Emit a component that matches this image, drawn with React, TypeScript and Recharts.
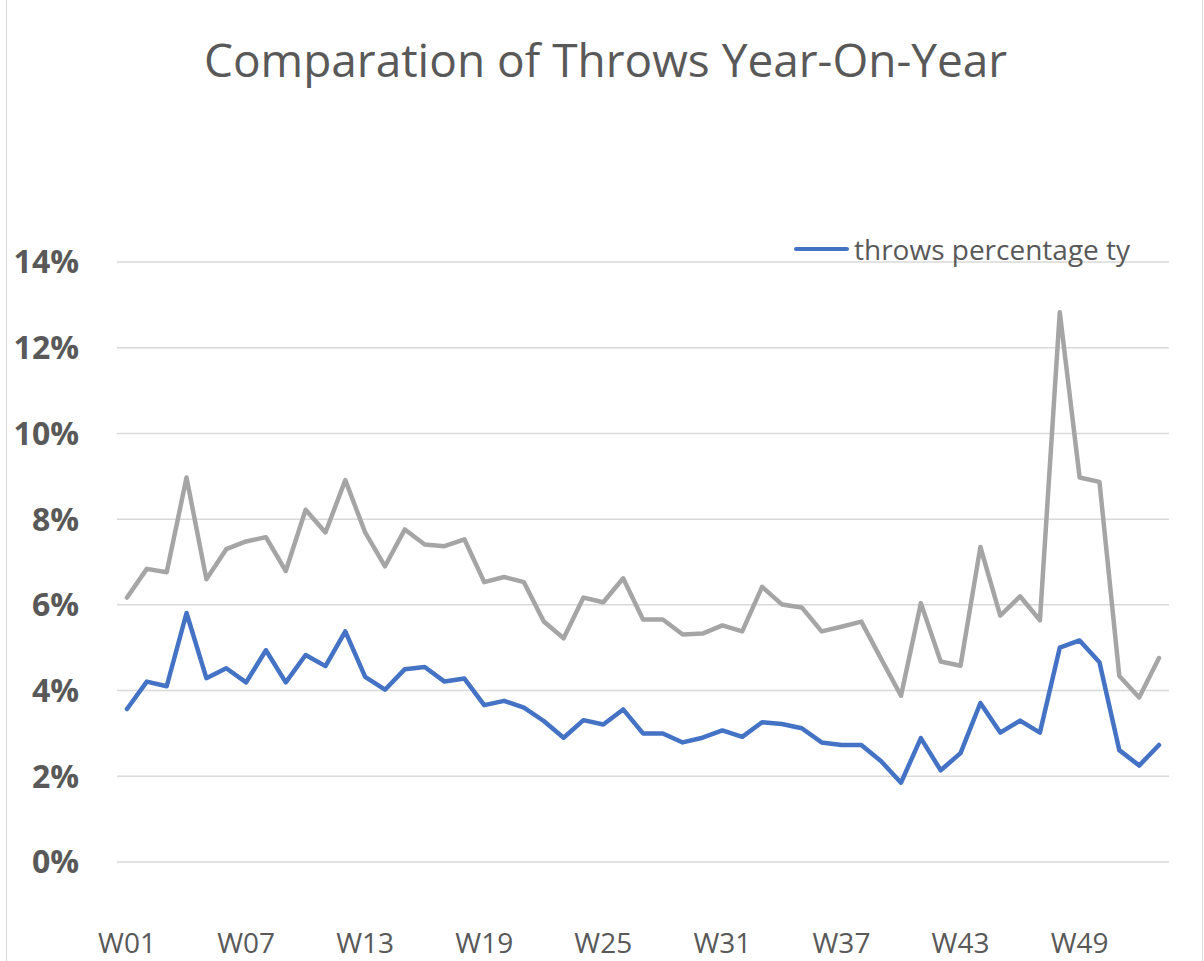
import React from 'react';
import { LineChart, Line, XAxis, YAxis, CartesianGrid, Legend } from 'recharts';

const weeks = [
  'W01', 'W02', 'W03', 'W04', 'W05', 'W06', 'W07', 'W08', 'W09', 'W10',
  'W11', 'W12', 'W13', 'W14', 'W15', 'W16', 'W17', 'W18', 'W19', 'W20',
  'W21', 'W22', 'W23', 'W24', 'W25', 'W26', 'W27', 'W28', 'W29', 'W30',
  'W31', 'W32', 'W33', 'W34', 'W35', 'W36', 'W37', 'W38', 'W39', 'W40',
  'W41', 'W42', 'W43', 'W44', 'W45', 'W46', 'W47', 'W48', 'W49', 'W50',
  'W51', 'W52', 'W53',
];

const throwsLy = [
  6.17, 6.84, 6.76, 8.97, 6.6, 7.3, 7.48, 7.58, 6.79, 8.22,
  7.69, 8.91, 7.69, 6.9, 7.76, 7.41, 7.37, 7.53, 6.53, 6.65,
  6.53, 5.61, 5.22, 6.17, 6.06, 6.62, 5.66, 5.66, 5.31, 5.33,
  5.52, 5.38, 6.42, 6.01, 5.94, 5.38, 5.49, 5.61, 4.74, 3.88,
  6.04, 4.68, 4.58, 7.35, 5.75, 6.2, 5.64, 12.83, 8.97, 8.87,
  4.34, 3.84, 4.76,
];

const throwsTy = [
  3.57, 4.21, 4.1, 5.81, 4.29, 4.52, 4.19, 4.94, 4.19, 4.83,
  4.57, 5.38, 4.32, 4.02, 4.5, 4.55, 4.21, 4.28, 3.66, 3.76,
  3.6, 3.29, 2.9, 3.31, 3.21, 3.56, 3.0, 3.0, 2.79, 2.9,
  3.07, 2.92, 3.26, 3.22, 3.12, 2.79, 2.73, 2.73, 2.35, 1.85,
  2.89, 2.14, 2.54, 3.71, 3.02, 3.3, 3.02, 5.0, 5.17, 4.66,
  2.61, 2.25, 2.73,
];

const yTicks = [0, 2, 4, 6, 8, 10, 12, 14];
const chartTitle = 'Comparation of Throws Year-On-Year';
const tyName = 'throws percentage ty';
const lyName = 'throws percentage ly';

const data = weeks.map((w, i) => ({ week: w, ly: throwsLy[i], ty: throwsTy[i] }));

const FONT = '"Open Sans", "Liberation Sans", sans-serif';
const TEXT = '#595959';
const BLUE = '#4472c4';
const GRAY = '#a5a5a5';

function LegendContent(props: any) {
  const items = (props.payload || []).filter((p: any) => p.type !== 'none');
  return (
    <div style={{ display: 'flex', alignItems: 'center' }}>
      {items.map((p: any) => (
        <div key={p.value} style={{ display: 'flex', alignItems: 'center' }}>
          <span
            style={{
              display: 'inline-block',
              width: 55,
              height: 4.5,
              borderRadius: 3,
              background: p.color,
              marginRight: 5,
            }}
          />
          <span style={{ fontFamily: FONT, fontSize: 28, color: TEXT, lineHeight: '38px' }}>{p.value}</span>
        </div>
      ))}
    </div>
  );
}

export default function App() {
  return (
    <div
      style={{
        position: 'absolute',
        left: 0,
        top: 0,
        width: 1204,
        height: 961,
        background: '#fff',
        overflow: 'hidden',
      }}
    >
      <div
        style={{
          position: 'absolute',
          left: 6,
          top: -12,
          width: 1197,
          height: 990,
          border: '1.5px solid #d9d9d9',
          borderRadius: 8,
          boxSizing: 'border-box',
        }}
      />
      <div
        style={{
          position: 'absolute',
          left: 0,
          top: 28,
          width: 1211,
          textAlign: 'center',
          fontFamily: FONT,
          fontSize: 46,
          lineHeight: '62px',
          color: TEXT,
          whiteSpace: 'nowrap',
        }}
      >
        {chartTitle}
      </div>
      <div style={{ position: 'absolute', left: 0, top: 0 }}>
        <LineChart width={1204} height={961} data={data} margin={{ top: 262, right: 35, bottom: 39, left: 0 }}>
          <CartesianGrid vertical={false} stroke="#d9d9d9" strokeWidth={1.5} />
          <XAxis
            dataKey="week"
            interval={5}
            height={60}
            tickLine={false}
            axisLine={false}
            tickSize={0}
            tickMargin={71}
            padding={{ left: 10, right: 10 }}
            tick={{ fontFamily: FONT, fontSize: 28, fill: TEXT }}
          />
          <YAxis
            width={117}
            domain={[0, 14]}
            ticks={yTicks}
            tickFormatter={(v: number) => `${v}%`}
            tickLine={false}
            axisLine={false}
            tickSize={0}
            tickMargin={38}
            tick={{ fontFamily: FONT, fontSize: 32, fontWeight: 700, fill: TEXT }}
          />
          <Legend
            layout="horizontal"
            verticalAlign="middle"
            align="center"
            content={<LegendContent />}
            wrapperStyle={{ position: 'absolute', left: 794, top: 230, right: 'auto', bottom: 'auto', width: 400 }}
          />
          <Line
            type="linear"
            dataKey="ly"
            name={lyName}
            stroke={GRAY}
            strokeWidth={4.5}
            strokeLinejoin="round"
            strokeLinecap="round"
            dot={false}
            activeDot={false}
            legendType="none"
            isAnimationActive={false}
          />
          <Line
            type="linear"
            dataKey="ty"
            name={tyName}
            stroke={BLUE}
            strokeWidth={4.5}
            strokeLinejoin="round"
            strokeLinecap="round"
            dot={false}
            activeDot={false}
            isAnimationActive={false}
          />
        </LineChart>
      </div>
    </div>
  );
}
